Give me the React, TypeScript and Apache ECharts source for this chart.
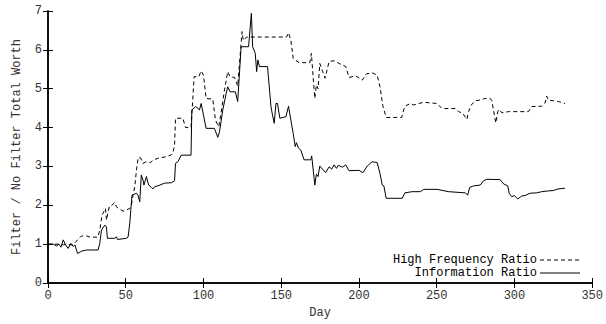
import React, { useEffect, useRef } from "react";
import * as echarts from "echarts";

const xTicks = [0, 50, 100, 150, 200, 250, 300, 350];
const yTicks = [0, 1, 2, 3, 4, 5, 6, 7];

const hfDays = [
  0, 8, 10, 12, 15, 17, 19, 21.5, 25, 27, 32, 33.3, 34.8, 36, 37, 37.6, 39.5, 41, 43, 44, 45, 47, 48.3,
  50.4, 52.6, 53.6, 54.7, 55.8, 56.9, 58, 59.6, 61, 63.3, 66, 67.5, 70.7, 76, 79.3, 80.3, 81.4, 82, 86.7,
  88.5, 92, 94, 97, 98.5, 100, 101.7, 106, 107.7, 109.8, 111.3, 113.5, 115.6, 117.1, 120, 122, 124.8,
  125.6, 127.8, 153.4, 154.7, 156.2, 157.7, 161.5, 168.4, 169.4, 170.5, 171.6, 172.6, 173.7, 174.8,
  176.5, 178.2, 180.8, 184, 187.2, 191.5, 193.6, 197.9, 202.1, 204.7, 208.5, 211.7, 213.5, 215.4, 217.5,
  227.4, 229.5, 233.1, 235.3, 238.5, 241.7, 250.2, 253.4, 262, 264.1, 266.7, 269.4, 270.5, 272.2, 274.8,
  278, 281.2, 284.4, 285.5, 286.5, 288, 289.3, 290.2, 291.9, 296.2, 309, 311.1, 317.5, 319.7, 320.7,
  321.8, 325, 328.2, 332.5,
];
const hfValues = [
  1.0, 1.0, 0.98, 1.0, 0.98, 1.02, 1.11, 1.21, 1.21, 1.18, 1.18, 1.36, 1.75, 1.84, 1.92, 1.62, 1.98, 2.0,
  2.07, 1.96, 1.93, 1.88, 1.85, 1.88, 1.92, 2.0, 2.26, 2.48, 2.91, 3.23, 3.22, 3.08, 3.12, 3.1, 3.16, 3.21,
  3.25, 3.3, 3.34, 3.55, 4.24, 4.24, 4.0, 4.0, 5.31, 5.31, 5.46, 5.35, 4.75, 4.73, 4.19, 4.02, 4.37, 4.97,
  5.44, 5.31, 5.29, 5.07, 6.47, 6.24, 6.33, 6.33, 6.44, 6.25, 5.78, 5.67, 5.67, 5.91, 5.31, 4.75, 5.1, 5.0,
  5.65, 5.46, 5.27, 5.7, 5.72, 5.65, 5.57, 5.29, 5.33, 5.22, 5.38, 5.41, 5.35, 5.05, 4.55, 4.26, 4.26,
  4.55, 4.62, 4.58, 4.62, 4.65, 4.62, 4.49, 4.49, 4.41, 4.37, 4.21, 4.41, 4.58, 4.69, 4.71, 4.75, 4.75,
  4.69, 4.45, 4.12, 4.41, 4.47, 4.38, 4.41, 4.41, 4.54, 4.55, 4.63, 4.81, 4.71, 4.69, 4.67, 4.62,
];

const irDays = [
  0, 3.4, 5.6, 7, 8.3, 9.8, 11.3, 13, 14.7, 16.2, 17.3, 19, 21.6, 24.8, 32.2, 33.3, 34.4, 36.5, 37.6, 38.2,
  43, 44, 44.7, 50.4, 51.5, 52.6, 54, 56.9, 57.9, 59, 60, 61.1, 61.7, 63.3, 64.7, 66.5, 67.5, 68.6, 70.7,
  75, 79.3, 81.4, 82, 83.5, 85.7, 92, 92.5, 94.9, 96.4, 97.4, 98.5, 101.7, 107, 109.2, 110.3, 112.4,
  114.6, 115.6, 117.1, 120.5, 122, 124.2, 129, 130.8, 131.6, 133.3, 134.2, 135, 136, 141.2, 143.4, 144.4,
  145.5, 146.6, 147.6, 149.1, 153, 154.7, 156.2, 157.7, 159, 159.8, 161.1, 162.6, 164.7, 169, 169.6,
  170.7, 171.6, 172.6, 173.7, 174.8, 176.5, 178.6, 180.8, 182.5, 184, 185.5, 186.7, 189.3, 191.5, 193.6,
  200, 202.6, 205.3, 208.5, 211.7, 213.5, 215, 216, 217.5, 227.8, 229.5, 234.2, 239.5, 241.7, 250.2,
  257.7, 268.4, 269.9, 271.2, 273.7, 278, 280.1, 282.3, 290.8, 293, 295.7, 296.6, 298.3, 300, 302.1,
  304.7, 306.8, 310, 314.3, 317.5, 321.8, 325, 328, 332.5,
];
const irValues = [
  1.0, 1.0, 0.95, 1.0, 0.92, 1.11, 0.98, 0.89, 1.02, 0.94, 0.98, 0.76, 0.82, 0.85, 0.85, 1.02, 1.36, 1.49,
  1.44, 1.15, 1.15, 1.19, 1.12, 1.15, 1.18, 1.54, 2.26, 2.31, 2.26, 2.09, 2.78, 2.65, 2.52, 2.74, 2.52,
  2.46, 2.42, 2.48, 2.5, 2.57, 2.58, 2.63, 3.08, 3.12, 3.29, 3.29, 4.45, 4.54, 4.5, 4.45, 4.62, 3.98, 3.98,
  3.75, 3.89, 4.45, 4.88, 5.05, 4.92, 4.92, 4.67, 6.08, 6.08, 6.94, 6.08, 5.91, 5.44, 5.74, 5.57, 5.57,
  4.54, 4.32, 4.11, 4.62, 4.62, 4.24, 4.28, 4.55, 4.19, 3.85, 3.51, 3.61, 3.47, 3.42, 3.17, 3.17, 3.27,
  2.86, 2.52, 2.8, 2.74, 3.01, 2.93, 2.84, 2.99, 2.93, 3.04, 2.95, 3.03, 2.98, 3.04, 2.89, 2.9, 2.84, 3.01,
  3.12, 3.1, 2.82, 2.52, 2.5, 2.18, 2.18, 2.32, 2.35, 2.35, 2.41, 2.41, 2.35, 2.32, 2.26, 2.46, 2.5, 2.52,
  2.63, 2.67, 2.66, 2.55, 2.5, 2.31, 2.22, 2.25, 2.16, 2.24, 2.25, 2.31, 2.32, 2.35, 2.37, 2.38, 2.42, 2.44,
];

const seriesNames = ["High Frequency Ratio", "Information Ratio"];
const xName = "Day";
const yName = "Filter / No Filter Total Worth";

const FONT = "'Liberation Mono', 'DejaVu Sans Mono', monospace";
const TEXT_COLOR = "#333";
const DASH = [4, 3];

export default function App() {
  const ref = useRef<HTMLDivElement>(null);
  useEffect(() => {
    if (!ref.current) return;
    const chart = echarts.init(ref.current, undefined, { renderer: "svg" });
    const zip = (xs: number[], ys: number[]) => xs.map((x, i) => [x, ys[i]]);
    const axisLine = { show: true, lineStyle: { color: "#000", width: 1.5 } };
    const tick = { show: true, inside: true, length: 5, lineStyle: { color: "#000", width: 1 } };
    const xMin = xTicks[0];
    const xMax = xTicks[xTicks.length - 1];
    const xInt = xTicks[1] - xTicks[0];
    const yMin = yTicks[0];
    const yMax = yTicks[yTicks.length - 1];
    const yInt = yTicks[1] - yTicks[0];

    const legendTextRight = 537;
    const legendLineX1 = 540;
    const legendLineX2 = 580;
    const legendRows = [260, 273];
    const legendDash = [DASH, null];
    const legendGraphics: any[] = [];
    seriesNames.forEach((name, i) => {
      legendGraphics.push({
        type: "text",
        x: legendTextRight,
        y: legendRows[i],
        style: {
          text: name,
          align: "right",
          verticalAlign: "middle",
          fontFamily: FONT,
          fontSize: 12,
          fill: "#000",
        },
      });
      legendGraphics.push({
        type: "line",
        shape: { x1: legendLineX1, y1: legendRows[i], x2: legendLineX2, y2: legendRows[i] },
        style: { stroke: "#000", lineWidth: 1, lineDash: legendDash[i] || undefined },
      });
    });

    chart.setOption({
      animation: false,
      backgroundColor: "#fff",
      grid: { left: 48, right: 13, top: 11, bottom: 41, containLabel: false },
      graphic: legendGraphics,
      xAxis: [
        {
          type: "value",
          min: xMin,
          max: xMax,
          interval: xInt,
          position: "bottom",
          axisLine,
          axisTick: tick,
          splitLine: { show: false },
          axisLabel: { margin: 7, fontFamily: FONT, fontSize: 12, color: TEXT_COLOR },
          name: xName,
          nameLocation: "middle",
          nameGap: 23,
          nameTextStyle: { fontFamily: FONT, fontSize: 12, color: TEXT_COLOR },
        },
        {
          type: "value",
          min: xMin,
          max: xMax,
          interval: xInt,
          position: "top",
          axisLine,
          axisTick: tick,
          splitLine: { show: false },
          axisLabel: { show: false },
        },
      ],
      yAxis: [
        {
          type: "value",
          min: yMin,
          max: yMax,
          interval: yInt,
          position: "left",
          axisLine,
          axisTick: tick,
          splitLine: { show: false },
          axisLabel: { margin: 6, fontFamily: FONT, fontSize: 12, color: TEXT_COLOR },
          name: yName,
          nameLocation: "middle",
          nameGap: 25,
          nameRotate: 90,
          nameTextStyle: { fontFamily: FONT, fontSize: 12, color: TEXT_COLOR },
        },
        {
          type: "value",
          min: yMin,
          max: yMax,
          interval: yInt,
          position: "right",
          axisLine,
          axisTick: tick,
          splitLine: { show: false },
          axisLabel: { show: false },
        },
      ],
      series: [
        {
          name: seriesNames[0],
          type: "line",
          xAxisIndex: 0,
          yAxisIndex: 0,
          data: zip(hfDays, hfValues),
          symbol: "none",
          showSymbol: false,
          lineStyle: { color: "#000", width: 1, type: DASH },
        },
        {
          name: seriesNames[1],
          type: "line",
          xAxisIndex: 0,
          yAxisIndex: 0,
          data: zip(irDays, irValues),
          symbol: "none",
          showSymbol: false,
          lineStyle: { color: "#000", width: 1, type: "solid" },
        },
      ],
    });
    return () => chart.dispose();
  }, []);
  return (
    <div
      ref={ref}
      style={{ position: "fixed", left: 0, top: 0, width: 606, height: 324, background: "#fff" }}
    />
  );
}
